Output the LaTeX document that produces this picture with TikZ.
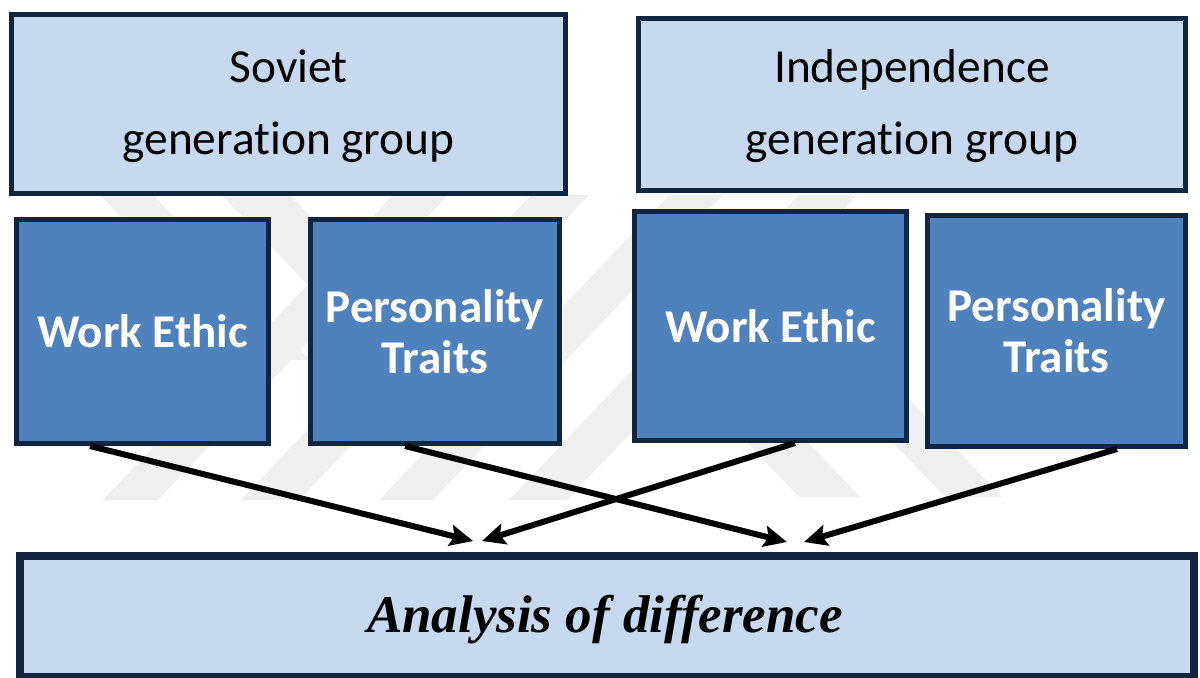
\documentclass[tikz,border=0pt]{standalone}
\usepackage{fontspec}
\setmainfont{Carlito}[Ligatures=NoCommon]
\newfontfamily\tmsfont{Liberation Serif}
\usetikzlibrary{arrows.meta}
\definecolor{lightfill}{HTML}{C6D9F1}
\definecolor{darkfill}{HTML}{4F81BD}
\definecolor{edge}{HTML}{10253F}
\definecolor{wm}{HTML}{EFEFEF}
\tikzset{
  lightbox/.style={draw=edge, line width=2.5pt, fill=lightfill, inner sep=0pt},
  lighttext/.style={align=center, inner sep=0pt, font=\fontsize{23.7}{36}\selectfont, text=black},
  darkbox/.style={draw=edge, line width=2.5pt, fill=darkfill, align=center, inner sep=0pt,
    font=\fontsize{23.5}{25.5}\selectfont\bfseries, text=white},
  resultbox/.style={draw=edge, line width=4pt, fill=lightfill, inner sep=0pt},
  resulttext/.style={inner sep=0pt, font=\fontsize{26.5}{30}\selectfont\tmsfont\bfseries\itshape},
  arr/.style={line width=3pt, -{Stealth[length=11.5pt, width=10.5pt, inset=2pt]}},
  wmstripe/.style={fill=wm, draw=none}
}
\begin{document}
\begin{tikzpicture}[x=0.5pt, y=-0.5pt]
\useasboundingbox (0,0) rectangle (1200,677);
% faint background watermark
\fill[wmstripe] (103,500) -- (158,500) -- (448,195) -- (393,195) -- cycle;
\fill[wmstripe] (241,500) -- (299,500) -- (589,195) -- (531,195) -- cycle;
\fill[wmstripe] (379,500) -- (433,500) -- (723,195) -- (669,195) -- cycle;
\fill[wmstripe] (509,500) -- (567,500) -- (857,195) -- (799,195) -- cycle;
\fill[wmstripe] (100,195) -- (153,195) -- (310,360) -- (257,360) -- cycle;
\fill[wmstripe] (222,195) -- (290,195) -- (447,360) -- (379,360) -- cycle;
\fill[wmstripe] (799,497) -- (860,497) -- (703,332) -- (642,332) -- cycle;
\fill[wmstripe] (945,497) -- (1002,497) -- (845,332) -- (788,332) -- cycle;

% top group boxes
\node[lightbox, minimum width=277pt, minimum height=89.5pt] (sov) at (288.5,104) {};
\node[lighttext] (sovtxt) at (288.5,106.5) {Soviet\\generation group};
\node[lightbox, minimum width=273.5pt, minimum height=86pt] (ind) at (912,104.5) {};
\node[lighttext] (indtxt) at (912,106.5) {Independence\\generation group};

% factor boxes
\node[darkbox, minimum width=126pt, minimum height=112pt] (we1) at (142.5,331.5) {Work Ethic};
\node[darkbox, minimum width=124.5pt, minimum height=112pt] (pt1) at (435,331.5) {Personality\\Traits};
\node[darkbox, minimum width=136pt, minimum height=114.5pt] (we2) at (770.5,326) {Work Ethic};
\node[darkbox, minimum width=129pt, minimum height=115.5pt] (pt2) at (1056.5,331) {Personality\\Traits};

% result box
\node[resultbox, minimum width=587pt, minimum height=60.5pt] (res) at (607,616.5) {};
\node[resulttext] (restxt) at (605,620) {Analysis of difference};

% arrow tips
\coordinate (t1) at (473,541);
\coordinate (t2) at (787,542);
\coordinate (t3) at (482,541);
\coordinate (t4) at (804,542);

\draw[arr] ([xshift=-26.25pt]we1.south) -- (t1);
\draw[arr] ([xshift=-15pt]pt1.south) -- (t2);
\draw[arr] ([xshift=12.25pt]we2.south) -- (t3);
\draw[arr] ([xshift=30.25pt]pt2.south) -- (t4);
\end{tikzpicture}
\end{document}
